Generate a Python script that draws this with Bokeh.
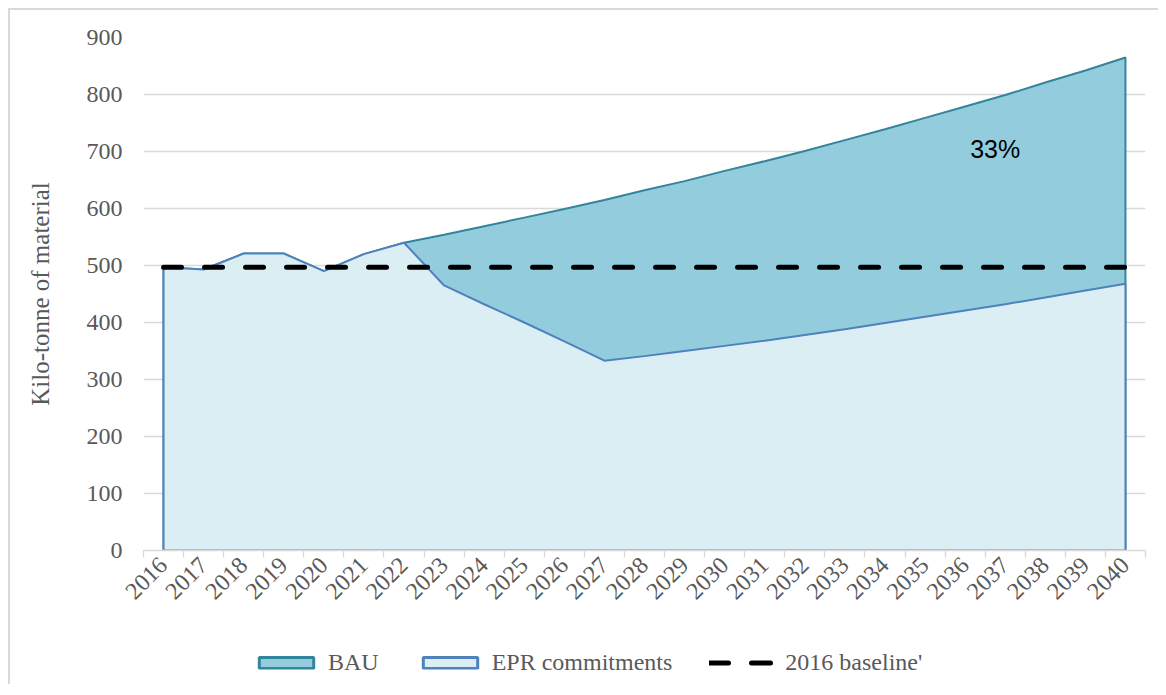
from bokeh.plotting import figure
from bokeh.layouts import column
from bokeh.models import Range1d, FixedTicker, Legend, LegendItem, Label
from bokeh.embed import file_html
from bokeh.resources import INLINE

# ---- data ----
years = [2016, 2017, 2018, 2019, 2020, 2021, 2022, 2023, 2024, 2025, 2026, 2027, 2028,
         2029, 2030, 2031, 2032, 2033, 2034, 2035, 2036, 2037, 2038, 2039, 2040]
bau = [497, 493, 521, 521, 490, 520, 540, 554, 569, 584, 599, 615, 632,
       648, 666, 683, 701, 720, 739, 759, 779, 799, 821, 842, 865]
epr = [497, 493, 521, 521, 490, 520, 540, 465, 432, 400, 367, 333, 341,
       350, 359, 368, 378, 388, 399, 410, 421, 432, 444, 456, 468]
baseline_years = [2016, 2040]
baseline_vals = [497, 497]
y_ticks = [0, 100, 200, 300, 400, 500, 600, 700, 800, 900]
series_names = ["BAU", "EPR commitments", "2016 baseline'"]
annotation_text = "33%"

SERIF = "Liberation Serif"
GRAY_TXT = "#595959"
BAU_FILL, BAU_LINE = "#93cddd", "#31859c"
EPR_FILL, EPR_LINE = "#dbeef4", "#4f81bd"

p = figure(frame_width=1002, frame_height=513,
           min_border_left=133, min_border_right=13, min_border_top=27, min_border_bottom=90,
           x_range=Range1d(2015.5, 2040.5), y_range=Range1d(0, 900),
           output_backend="svg", toolbar_location=None)
p.outline_line_color = None
p.background_fill_color = "white"
p.border_fill_color = "white"

# grid
p.xgrid.visible = False
p.ygrid.grid_line_color = "#d9d9d9"
p.ygrid.grid_line_width = 1.3
p.ygrid.ticker = FixedTicker(ticks=y_ticks)

# areas as closed polygons
zeros = [0 for _ in years]
bau_x = years + years[::-1]
bau_y = bau + zeros[::-1]
epr_x = years + years[::-1]
epr_y = epr + zeros[::-1]

p.patch(bau_x, bau_y, fill_color=BAU_FILL, line_color=BAU_LINE, line_width=2)
p.patch(epr_x, epr_y, fill_color=EPR_FILL, line_color=EPR_LINE, line_width=2)
p.line(baseline_years, baseline_vals, line_color="black", line_width=5,
       line_dash="18 23", line_cap="round")

# annotation
p.add_layout(Label(x=2036.75, y=705, text=annotation_text, text_align="center",
                   text_baseline="middle", text_font="Liberation Sans",
                   text_font_size="25px", text_color="black"))

# x axis
minor = [y - 0.5 for y in years] + [years[-1] + 0.5]
p.xaxis.ticker = FixedTicker(ticks=years, minor_ticks=minor)
p.xaxis.major_tick_line_color = None
p.xaxis.minor_tick_line_color = "#d9d9d9"
p.xaxis.minor_tick_line_width = 1.3
p.xaxis.minor_tick_out = 7
p.xaxis.minor_tick_in = 0
p.xaxis.axis_line_color = "#d9d9d9"
p.xaxis.axis_line_width = 1.3
p.xaxis.major_label_orientation = 0.785398
p.xaxis.major_label_text_font = SERIF
p.xaxis.major_label_text_font_size = "24px"
p.xaxis.major_label_text_color = GRAY_TXT
p.xaxis.major_label_standoff = 4

# y axis
p.yaxis.ticker = FixedTicker(ticks=y_ticks)
p.yaxis.axis_line_color = None
p.yaxis.major_tick_line_color = None
p.yaxis.minor_tick_line_color = None
p.yaxis.major_label_standoff = 15
p.yaxis.major_label_text_font = SERIF
p.yaxis.major_label_text_font_size = "24px"
p.yaxis.major_label_text_color = GRAY_TXT
p.yaxis.axis_label = "Kilo-tonne of material"
p.yaxis.axis_label_text_font = SERIF
p.yaxis.axis_label_text_font_size = "25px"
p.yaxis.axis_label_text_font_style = "normal"
p.yaxis.axis_label_text_color = GRAY_TXT
p.yaxis.axis_label_standoff = 30

# ---- legend strip (separate figure so it is not clipped) ----
lg = figure(frame_width=1002, frame_height=44, min_border_left=133, min_border_right=13,
            min_border_top=0, min_border_bottom=0,
            x_range=Range1d(0, 1), y_range=Range1d(0, 1),
            x_axis_type=None, y_axis_type=None,
            output_backend="svg", toolbar_location=None)
lg.grid.visible = False
lg.outline_line_color = None
lg.background_fill_color = "white"
lg.border_fill_color = "white"
# key renderers kept outside the visible range; only their legend swatches show
off = [-10, -10, -10]
k_bau = lg.patch(off, off, fill_color=BAU_FILL, line_color=BAU_LINE, line_width=3)
k_epr = lg.patch(off, off, fill_color=EPR_FILL, line_color=EPR_LINE, line_width=3)
k_base = lg.line(off[:2], off[:2], line_color="black", line_width=5, line_dash="19 23",
                 line_cap="round")

legend = Legend(items=[LegendItem(label=series_names[0], renderers=[k_bau]),
                       LegendItem(label=series_names[1], renderers=[k_epr]),
                       LegendItem(label=series_names[2], renderers=[k_base])],
                orientation="horizontal", location="left",
                glyph_width=68, glyph_height=14, label_standoff=8, spacing=37,
                padding=0, margin=109, border_line_color=None, background_fill_alpha=0,
                label_text_font=SERIF, label_text_font_size="24px",
                label_text_color=GRAY_TXT, label_height=14)
lg.add_layout(legend, "center")

layout = column(p, lg, spacing=0)
layout.styles = {"border-left": "2px solid #d9d9d9", "border-top": "2px solid #d9d9d9",
                 "margin-left": "8px", "margin-top": "8px"}

open("out.html", "w").write(file_html(layout, INLINE))
